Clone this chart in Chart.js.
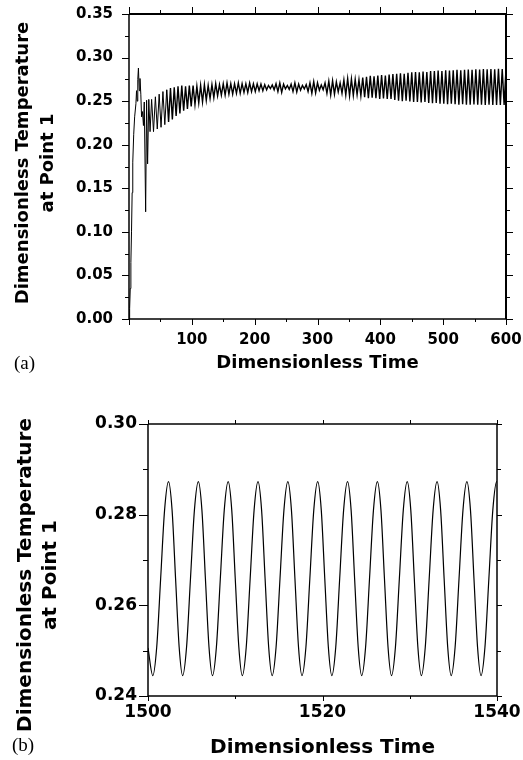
<!DOCTYPE html>
<html>
<head>
<meta charset="utf-8">
<title>Dimensionless Temperature at Point 1</title>
<script src="https://cdn.jsdelivr.net/npm/chart.js@4.4.1/dist/chart.umd.min.js"></script>
<style>
  html, body { margin: 0; padding: 0; background: #fff; }
  #wrap { position: relative; width: 523px; height: 760px; overflow: hidden; }
  canvas { position: absolute; left: 0; }
  #chartA { top: 0; }
  #chartB { top: 400px; }
</style>
</head>
<body>
<div id="wrap">
  <canvas id="chartA" width="523" height="390"></canvas>
  <canvas id="chartB" width="523" height="360"></canvas>
</div>
<script>
// (a) start-up, t = 0..600 (transient, then the dense oscillation band)
const timeA = [
  0, 1, 2, 3, 4, 5, 6, 7.5, 9, 11, 12, 13, 14, 15, 16.3, 17.5, 18.8, 20, 21.5, 23, 24.3, 26.5, 28, 29.6, 31.5, 33.5,
  36, 39, 42, 45, 48, 51, 54, 57, 60, 63,
  66, 69, 72, 75, 78, 81, 84, 87, 90, 93,
  96, 99, 102, 105, 108, 111, 114, 117, 120, 123,
  126, 129, 132, 135, 138, 141, 144, 147, 150, 153,
  156, 159, 162, 165, 168, 171, 174, 177, 180, 183,
  186, 189, 192, 195, 198, 201, 204, 207, 210, 213,
  216, 219, 222, 225, 228, 231, 234, 237, 240, 243,
  246, 249, 252, 255, 258, 261, 264, 267, 270, 273,
  276, 279, 282, 285, 288, 291, 294, 297, 300, 303,
  306, 309, 312, 315, 318, 321, 324, 327, 330, 333,
  336, 339, 342, 345, 348, 351, 354, 357, 360, 363,
  366, 369, 372, 375, 378, 381, 384, 387, 390, 393,
  396, 399, 402, 405, 408, 411, 414, 417, 420, 423,
  426, 429, 432, 435, 438, 441, 444, 447, 450, 453,
  456, 459, 462, 465, 468, 471, 474, 477, 480, 483,
  486, 489, 492, 495, 498, 501, 504, 507, 510, 513,
  516, 519, 522, 525, 528, 531, 534, 537, 540, 543,
  546, 549, 552, 555, 558, 561, 564, 567, 570, 573,
  576, 579, 582, 585, 588, 591, 594, 597, 600
];
const tempA = [
  0.000, 0.012, 0.035, 0.065, 0.100, 0.145, 0.180, 0.212, 0.232, 0.247, 0.262, 0.250, 0.275,
  0.288, 0.262, 0.276, 0.258, 0.232, 0.238, 0.222, 0.249, 0.123, 0.251, 0.178, 0.252, 0.215,
  0.252, 0.215, 0.255, 0.218, 0.258, 0.220, 0.261, 0.223, 0.263, 0.226,
  0.265, 0.229, 0.266, 0.233, 0.267, 0.236, 0.268, 0.239, 0.267, 0.241,
  0.268, 0.244, 0.268, 0.246, 0.267, 0.248, 0.268, 0.249, 0.269, 0.251,
  0.268, 0.253, 0.269, 0.254, 0.270, 0.256, 0.269, 0.257, 0.270, 0.257,
  0.271, 0.258, 0.270, 0.258, 0.270, 0.259, 0.271, 0.259, 0.270, 0.260,
  0.270, 0.260, 0.271, 0.261, 0.270, 0.261, 0.270, 0.262, 0.2695, 0.262,
  0.269, 0.263, 0.268, 0.2645, 0.2685, 0.263, 0.270, 0.261, 0.271, 0.260,
  0.2695, 0.264, 0.268, 0.2635, 0.2695, 0.261, 0.271, 0.2605, 0.2695, 0.2625,
  0.268, 0.264, 0.269, 0.261, 0.271, 0.259, 0.2725, 0.2595, 0.271, 0.2625,
  0.2685, 0.263, 0.271, 0.259, 0.273, 0.257, 0.2735, 0.258, 0.272, 0.2605,
  0.271, 0.259, 0.2745, 0.257, 0.276, 0.256, 0.2755, 0.2565, 0.275, 0.2575,
  0.2745, 0.256, 0.277, 0.2545, 0.278, 0.2535, 0.279, 0.254, 0.2785, 0.2535,
  0.2795, 0.2525, 0.280, 0.253, 0.2795, 0.2525, 0.2805, 0.2525, 0.281, 0.2515,
  0.2815, 0.2505, 0.282, 0.250, 0.2815, 0.2505, 0.2825, 0.2495, 0.283, 0.249,
  0.2835, 0.249, 0.283, 0.2485, 0.284, 0.249, 0.2835, 0.248, 0.2845, 0.2475,
  0.2845, 0.248, 0.285, 0.247, 0.2845, 0.247, 0.2855, 0.2465, 0.285, 0.247,
  0.2855, 0.2465, 0.286, 0.246, 0.2855, 0.2465, 0.286, 0.246, 0.2862, 0.2458,
  0.286, 0.2462, 0.2865, 0.2458, 0.2862, 0.246, 0.2868, 0.2456, 0.2865, 0.2458,
  0.2868, 0.2455, 0.2866, 0.2457, 0.287, 0.2455, 0.2868, 0.2456, 0.287
];

// (b) settled oscillation, t = 1500..1540
const timeB = [
  1500.00, 1500.55,
  1501.00, 1501.45, 1501.90, 1502.35, 1502.76, 1503.16, 1503.57, 1503.97,
  1504.42, 1504.87, 1505.32, 1505.77, 1506.18, 1506.58, 1506.99, 1507.39,
  1507.84, 1508.29, 1508.74, 1509.19, 1509.60, 1510.00, 1510.41, 1510.81,
  1511.26, 1511.71, 1512.16, 1512.61, 1513.02, 1513.42, 1513.83, 1514.23,
  1514.68, 1515.13, 1515.58, 1516.03, 1516.44, 1516.84, 1517.25, 1517.65,
  1518.10, 1518.55, 1519.00, 1519.45, 1519.86, 1520.26, 1520.67, 1521.07,
  1521.52, 1521.97, 1522.42, 1522.87, 1523.28, 1523.68, 1524.09, 1524.49,
  1524.94, 1525.39, 1525.84, 1526.29, 1526.70, 1527.10, 1527.51, 1527.91,
  1528.36, 1528.81, 1529.26, 1529.71, 1530.12, 1530.52, 1530.93, 1531.33,
  1531.78, 1532.23, 1532.68, 1533.13, 1533.54, 1533.94, 1534.35, 1534.75,
  1535.20, 1535.65, 1536.10, 1536.55, 1536.96, 1537.36, 1537.77, 1538.17,
  1538.62, 1539.07, 1539.52, 1539.97, 1540.00
];
const tempB = [
  0.2506, 0.2445,
  0.2508, 0.2659, 0.2810, 0.2873, 0.2810, 0.2659, 0.2508, 0.2445,
  0.2508, 0.2659, 0.2810, 0.2873, 0.2810, 0.2659, 0.2508, 0.2445,
  0.2508, 0.2659, 0.2810, 0.2873, 0.2810, 0.2659, 0.2508, 0.2445,
  0.2508, 0.2659, 0.2810, 0.2873, 0.2810, 0.2659, 0.2508, 0.2445,
  0.2508, 0.2659, 0.2810, 0.2873, 0.2810, 0.2659, 0.2508, 0.2445,
  0.2508, 0.2659, 0.2810, 0.2873, 0.2810, 0.2659, 0.2508, 0.2445,
  0.2508, 0.2659, 0.2810, 0.2873, 0.2810, 0.2659, 0.2508, 0.2445,
  0.2508, 0.2659, 0.2810, 0.2873, 0.2810, 0.2659, 0.2508, 0.2445,
  0.2508, 0.2659, 0.2810, 0.2873, 0.2810, 0.2659, 0.2508, 0.2445,
  0.2508, 0.2659, 0.2810, 0.2873, 0.2810, 0.2659, 0.2508, 0.2445,
  0.2508, 0.2659, 0.2810, 0.2873, 0.2810, 0.2659, 0.2508, 0.2445,
  0.2508, 0.2659, 0.2810, 0.2873, 0.2873
];

// tick positions
const xTicksA = [0, 100, 200, 300, 400, 500, 600];
const xMinorA = [50, 150, 250, 350, 450, 550];
const yTicksA = [0, 0.05, 0.10, 0.15, 0.20, 0.25, 0.30, 0.35];
const yMinorA = [0.025, 0.075, 0.125, 0.175, 0.225, 0.275, 0.325];
const xTicksB = [1500, 1520, 1540];
const xMinorB = [1510, 1530];
const yTicksB = [0.24, 0.26, 0.28, 0.30];
const yMinorB = [0.25, 0.27, 0.29];

const yTitle = ['Dimensionless Temperature', 'at Point 1'];
const xTitle = 'Dimensionless Time';

const FONT = '"DejaVu Sans", "Liberation Sans", Arial, sans-serif';

// box, tick marks, rotated y title and panel tag
const framePlugin = {
    id: 'frame',
    afterDraw: function(chart, args, o) {
        const ctx = chart.ctx;
        const a = chart.chartArea;
        const sx = chart.scales.x;
        const sy = chart.scales.y;
        const mark = function(x1, y1, x2, y2) {
            ctx.beginPath();
            ctx.moveTo(x1, y1);
            ctx.lineTo(x2, y2);
            ctx.stroke();
        };
        ctx.save();
        ctx.strokeStyle = '#000';
        ctx.fillStyle = '#000';

        ctx.lineWidth = 1;
        const yTick = function(v, major) {
            const py = Math.round(sy.getPixelForValue(v)) + 0.5;
            const i = major ? 0 : 1;
            mark(a.left - o.left[i], py, a.left, py);
            mark(a.right, py, a.right + o.right[i], py);
        };
        const xTick = function(v, major) {
            const px = Math.round(sx.getPixelForValue(v)) + 0.5;
            const i = major ? 0 : 1;
            mark(px, a.top - o.top[i], px, a.top);
            mark(px, a.bottom, px, a.bottom + o.bottom[i]);
        };
        o.yMajor.forEach(v => yTick(v, true));
        o.yMinor.forEach(v => yTick(v, false));
        o.xMajor.forEach(v => xTick(v, true));
        o.xMinor.forEach(v => xTick(v, false));

        // frame: left/bottom then top/right
        ctx.lineWidth = o.lwLB;
        mark(a.left, a.top, a.left, a.bottom);
        mark(a.left, a.bottom, a.right, a.bottom);
        ctx.lineWidth = o.lwTR;
        mark(a.left, a.top, a.right, a.top);
        mark(a.right, a.top, a.right, a.bottom);

        ctx.font = 'bold ' + o.titleSize + 'px ' + FONT;
        ctx.textAlign = 'center';
        ctx.textBaseline = 'middle';
        yTitle.forEach(function(line, i) {
            ctx.save();
            ctx.translate(o.titleX[i], o.titleY);
            ctx.rotate(-Math.PI / 2);
            ctx.fillText(line, 0, 0);
            ctx.restore();
        });

        ctx.font = o.tagSize + 'px "Liberation Serif", "DejaVu Serif", serif';
        ctx.textAlign = 'left';
        ctx.fillText(o.tag, o.tagX, o.tagY);
        ctx.restore();
    }
};

const TemperatureCharts = {
    charts: [],

    build: function(id, p) {
        const canvas = document.getElementById(id);
        if (!canvas) {
            console.warn('canvas not found: ' + id);
            return null;
        }
        const points = p.time.map((t, i) => ({ x: t, y: p.temp[i] }));
        return new Chart(canvas.getContext('2d'), {
            type: 'line',
            data: {
                datasets: [{
                    data: points,
                    borderColor: '#000',
                    borderWidth: p.lineWidth,
                    pointRadius: 0,
                    fill: false,
                    tension: 0,
                    cubicInterpolationMode: p.smooth ? 'monotone' : 'default',
                    // the dense band reads darker than the start-up lines
                    segment: {
                        borderWidth: c => (p.bandFrom !== undefined && c.p0.parsed.x >= p.bandFrom) ? p.bandWidth : p.lineWidth
                    }
                }]
            },
            plugins: [framePlugin],
            options: {
                responsive: false,
                animation: false,
                devicePixelRatio: 1,
                parsing: false,
                layout: { padding: p.padding },
                plugins: {
                    legend: { display: false },
                    tooltip: { enabled: false },
                    frame: p.frame
                },
                scales: {
                    x: {
                        type: 'linear',
                        min: p.xMin,
                        max: p.xMax,
                        afterBuildTicks: s => { s.ticks = p.xTicks.map(v => ({ value: v })); },
                        afterFit: s => { s.height = p.xHeight; s.paddingLeft = 0; s.paddingRight = 0; },
                        grid: { display: false, drawTicks: false },
                        border: { display: false },
                        ticks: {
                            autoSkip: false,
                            maxRotation: 0,
                            padding: p.xPad,
                            color: '#000',
                            font: { family: FONT, weight: 'bold', size: p.tickSize },
                            callback: v => (v === p.xMin && p.hideFirstX) ? '' : String(v)
                        },
                        title: {
                            display: true,
                            text: xTitle,
                            color: '#000',
                            font: { family: FONT, weight: 'bold', size: p.xTitleSize, lineHeight: 1.2 },
                            padding: { top: 0, bottom: p.xTitlePad }
                        }
                    },
                    y: {
                        type: 'linear',
                        min: p.yMin,
                        max: p.yMax,
                        afterBuildTicks: s => { s.ticks = p.yTicks.map(v => ({ value: v })); },
                        afterFit: s => { s.width = p.yWidth; s.paddingTop = 0; s.paddingBottom = 0; },
                        grid: { display: false, drawTicks: false },
                        border: { display: false },
                        ticks: {
                            autoSkip: false,
                            padding: p.yPad,
                            color: '#000',
                            font: { family: FONT, weight: 'bold', size: p.tickSize },
                            callback: v => Number(v).toFixed(2)
                        }
                    }
                }
            }
        });
    },

    init: function() {
        this.charts.push(this.build('chartA', {
            time: timeA, temp: tempA, lineWidth: 1, bandFrom: 60, bandWidth: 1.4, smooth: false,
            xMin: 0, xMax: 600, yMin: 0, yMax: 0.35,
            xTicks: xTicksA, yTicks: yTicksA, hideFirstX: true,
            padding: { left: 0, right: 17, top: 14, bottom: 0 },
            xHeight: 71, yWidth: 129,
            tickSize: 15, xPad: 12, yPad: 16,
            xTitleSize: 18, xTitlePad: 16,
            frame: {
                xMajor: xTicksA, xMinor: xMinorA, yMajor: yTicksA, yMinor: yMinorA,
                left: [7, 4], right: [7, 4], top: [7, 4], bottom: [6, 3],
                lwLB: 1.5, lwTR: 2,
                titleSize: 18, titleX: [23, 48], titleY: 163,
                tag: '(a)', tagSize: 19, tagX: 14, tagY: 364
            }
        }));
        this.charts.push(this.build('chartB', {
            time: timeB, temp: tempB, lineWidth: 1.2, smooth: true,
            xMin: 1500, xMax: 1540, yMin: 0.24, yMax: 0.30,
            xTicks: xTicksB, yTicks: yTicksB, hideFirstX: false,
            padding: { left: 0, right: 26, top: 24, bottom: 0 },
            xHeight: 64, yWidth: 148,
            tickSize: 17, xPad: 6, yPad: 11,
            xTitleSize: 20, xTitlePad: 0,
            frame: {
                xMajor: xTicksB, xMinor: xMinorB, yMajor: yTicksB, yMinor: yMinorB,
                left: [9, 5], right: [5, 4], top: [4, 4], bottom: [5, 3],
                lwLB: 1.5, lwTR: 1.5,
                titleSize: 20, titleX: [26, 51], titleY: 175,
                tag: '(b)', tagSize: 19, tagX: 12, tagY: 346
            }
        }));
    }
};

TemperatureCharts.init();
</script>
</body>
</html>
